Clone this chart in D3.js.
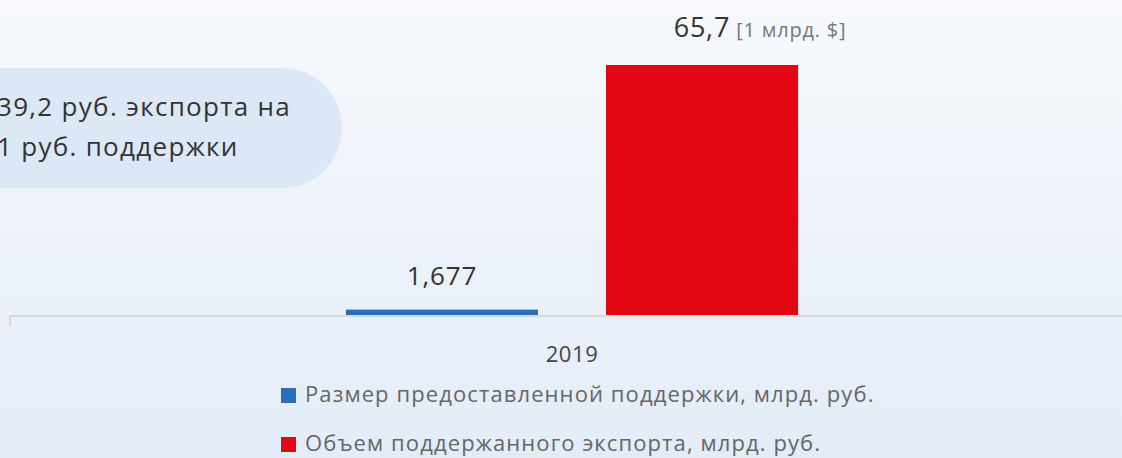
<!DOCTYPE html>
<html>
<head>
<meta charset="utf-8">
<script src="https://cdn.jsdelivr.net/npm/d3@7"></script>
<style>
  html, body { margin: 0; padding: 0; }
  body { width: 1122px; height: 458px; overflow: hidden; }
  svg { display: block; font-family: "Open Sans", sans-serif; }
</style>
</head>
<body>
<div id="chart"></div>
<script>
// chart data
const years = ['2019'];
const seriesNames = [
  'Размер предоставленной поддержки, млрд. руб.',
  'Объем поддержанного экспорта, млрд. руб.'
];
const seriesColors = ['#2a6ebb', '#e30613'];
const supportValues = [1.677];
const exportValues = [65.7];
const valueLabels = [['1,677'], ['65,7']];
const exportUnitNote = '[1 млрд. $]';
const calloutLines = ['39,2 руб. экспорта на', '1 руб. поддержки'];

const width = 1122, height = 458;
const svg = d3.select('#chart').append('svg')
  .attr('width', width).attr('height', height);

// background gradient
const defs = svg.append('defs');
const bg = defs.append('linearGradient').attr('id', 'bg')
  .attr('x1', 0).attr('y1', 0).attr('x2', 0).attr('y2', 1);
bg.append('stop').attr('offset', '0%').attr('stop-color', '#f7f9fc');
bg.append('stop').attr('offset', '100%').attr('stop-color', '#e3ecf7');
svg.append('rect').attr('width', width).attr('height', height).attr('fill', 'url(#bg)');

// callout pill
svg.append('rect')
  .attr('x', -80).attr('y', 68).attr('width', 422).attr('height', 120)
  .attr('rx', 60).attr('fill', '#dce8f5');
svg.append('g').selectAll('text').data(calloutLines).join('text')
  .attr('x', -3).attr('y', (d, i) => 116 + i * 40)
  .attr('font-size', 26).attr('letter-spacing', 1.3).attr('fill', '#333')
  .text(d => d);

const x0 = d3.scaleBand().domain(years).range([10, 1134]).paddingInner(0).paddingOuter(0.743);
const x1 = d3.scaleBand().domain(d3.range(seriesNames.length))
  .range([0, x0.bandwidth()]).paddingInner(0.2615).paddingOuter(0);
const y = d3.scaleLinear().domain([0, 65.7]).range([316, 65]);

const series = [supportValues, exportValues];

const groups = svg.append('g').selectAll('g').data(years).join('g')
  .attr('transform', d => `translate(${x0(d)},0)`);

series.forEach((vals, si) => {
  groups.append('rect')
    .attr('x', x1(si))
    .attr('y', (d, i) => y(vals[years.indexOf(d)]))
    .attr('width', x1.bandwidth())
    .attr('height', d => y(0) - y(vals[years.indexOf(d)]))
    .attr('fill', seriesColors[si]);
});

// value labels
groups.append('text')
  .attr('x', x1(0) + x1.bandwidth() / 2)
  .attr('y', d => y(supportValues[years.indexOf(d)]) - 25)
  .attr('text-anchor', 'middle')
  .attr('font-size', 26).attr('letter-spacing', 0.8).attr('fill', '#333')
  .text((d, i) => valueLabels[0][i]);

const lbl = groups.append('text')
  .attr('x', x1(1) + x1.bandwidth() / 2 + 58)
  .attr('y', d => y(exportValues[years.indexOf(d)]) - 28)
  .attr('text-anchor', 'middle')
  .attr('fill', '#333');
lbl.append('tspan').attr('font-size', 27).attr('letter-spacing', 0.8).text((d, i) => valueLabels[1][i]);
lbl.append('tspan').attr('font-size', 20).attr('letter-spacing', 0.8)
  .attr('fill', '#777').attr('dx', 6).text(exportUnitNote);

// x axis
const axis = svg.append('g').attr('transform', `translate(0,${y(0)})`);
axis.append('line').attr('x1', 10).attr('x2', width).attr('stroke', '#d6d8db').attr('stroke-width', 2);
axis.append('line').attr('x1', 10).attr('x2', 10).attr('y1', 0).attr('y2', 10)
  .attr('stroke', '#d6d8db').attr('stroke-width', 2);
axis.selectAll('text.tick').data(years).join('text')
  .attr('x', d => x0(d) + x0.bandwidth() / 2).attr('y', 46)
  .attr('text-anchor', 'middle').attr('font-size', 22).attr('letter-spacing', 0.6).attr('fill', '#444')
  .text(d => d);

// legend
const legend = svg.append('g').selectAll('g').data(seriesNames).join('g')
  .attr('transform', (d, i) => `translate(281,${388 + i * 49})`);
legend.append('rect').attr('width', 15).attr('height', 15)
  .attr('fill', (d, i) => seriesColors[i]);
legend.append('text').attr('x', 24).attr('y', 14)
  .attr('font-size', 22).attr('letter-spacing', 1.1).attr('fill', '#666')
  .text(d => d);
</script>
</body>
</html>
